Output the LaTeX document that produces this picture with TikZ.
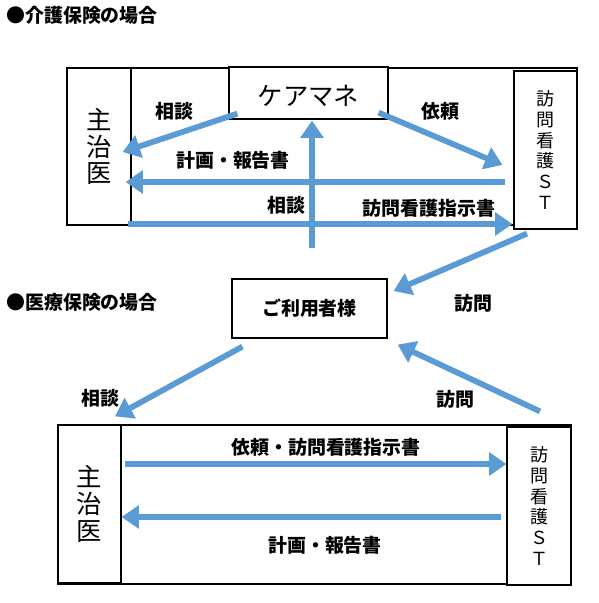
\documentclass[tikz,border=0pt]{standalone}
\usepackage{fontspec}
\setmainfont{Noto Sans CJK JP}
\usepackage{tikz}
\usetikzlibrary{arrows.meta,positioning}
\definecolor{arrowblue}{RGB}{91,155,213}

\tikzset{
  box/.style={draw, line width=0.9pt, fill=white, inner sep=0pt},
  flow/.style={arrowblue, line width=4.3pt, -{Triangle[length=13pt,width=17pt]}},
  tag/.style={font=\fontsize{14.2}{16}\selectfont\bfseries},
  bigtxt/.style={align=center, font=\fontsize{19}{20}\selectfont},
  sttxt/.style={align=center, font=\fontsize{13.5}{15.6}\selectfont},
}

\begin{document}
\begin{tikzpicture}[x=0.75pt,y=-0.75pt]
\useasboundingbox (0,0) rectangle (599,603);

% Kaigo hoken
\node[tag, anchor=west, inner sep=0pt] (title1) at (6,15) {●介護保険の場合};
\draw[line width=0.9pt] (67,68) rectangle (577,225);
\node[box, bigtxt, minimum width=48pt, minimum height=117.75pt] (doc1) at (99,146.5) {主\\治\\医};
\node[box, minimum width=119.25pt, minimum height=39pt, font=\fontsize{19}{20}\selectfont, text height=19pt, text depth=0pt] (cm) at (308.5,93) {ケアマネ};
\node[box, sttxt, minimum width=47.25pt, minimum height=118.5pt] (st1) at (545.5,150) {訪\\問\\看\\護\\Ｓ\\Ｔ};

% Riyousha
\node[box, minimum width=116.25pt, minimum height=44.25pt, font=\fontsize{14.2}{16}\selectfont\bfseries] (user) at (309.5,308.5) {ご利用者様};

% Iryou hoken
\node[tag, anchor=west, inner sep=0pt] (title2) at (6,302) {●医療保険の場合};
\draw[line width=0.9pt] (58,425) rectangle (571,584);
\node[box, bigtxt, minimum width=47.25pt, minimum height=118.5pt] (doc2) at (89.5,504) {主\\治\\医};
\node[box, sttxt, minimum width=48pt, minimum height=118.5pt] (st2) at (539,506) {訪\\問\\看\\護\\Ｓ\\Ｔ};

% Arrows, top
\draw[flow] ([shift={(9,-6)}]cm.south west) -- ([shift={(-9,5.5)}]doc1.east);
\draw[flow] ([shift={(-10,-7)}]cm.south east) -- ([shift={(-11,15)}]st1.west);
\draw[flow] ([shift={(-8,32)}]st1.west) -- ([shift={(-6,35.5)}]doc1.east);
\draw[flow] ([shift={(-4,77.5)}]doc1.east) -- ([shift={(-1,74)}]st1.west);
\draw[flow] ([shift={(3.5,128)}]cm.south) -- ([shift={(3.5,1)}]cm.south);

% Arrows, middle
\draw[flow] ([shift={(-18.5,4)}]st1.south) -- ([shift={(6,-17.5)}]user.east);
\draw[flow] ([shift={(1,-15)}]st2.north) -- ([shift={(10,6)}]user.south east);
\draw[flow] ([shift={(11,8)}]user.south west) -- ([shift={(25.5,-8)}]doc2.north);

% Arrows, bottom
\draw[flow] ([shift={(3,-40)}]doc2.east) -- ([shift={(0,-42)}]st2.west);
\draw[flow] ([shift={(-5,11)}]st2.west) -- ([shift={(0,13)}]doc2.east);

% Labels
\node[tag] (l1) at (174,111) {相談};
\node[tag] (l2) at (440,111) {依頼};
\node[tag] (l3) at (233,160) {計画・報告書};
\node[tag] (l4) at (286,205) {相談};
\node[tag] (l5) at (429,208) {訪問看護指示書};
\node[tag] (l6) at (473,303) {訪問};
\node[tag] (l7) at (455,399) {訪問};
\node[tag] (l8) at (100,398) {相談};
\node[tag] (l9) at (326,447) {依頼・訪問看護指示書};
\node[tag] (l10) at (325,545) {計画・報告書};
\end{tikzpicture}
\end{document}
